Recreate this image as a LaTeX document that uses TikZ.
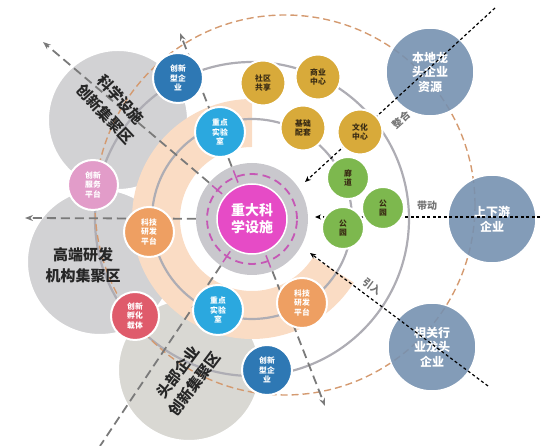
\documentclass[tikz,border=0pt]{standalone}
\usepackage{fontspec}
\setmainfont{Noto Sans CJK SC}
\usetikzlibrary{arrows.meta}

\definecolor{coreMag}{HTML}{E64BC6}
\definecolor{ringGray}{HTML}{C9C8CD}
\definecolor{dashMag}{HTML}{C558B5}
\definecolor{bandPeach}{HTML}{FADCC4}
\definecolor{bizBlue}{HTML}{2E78B4}
\definecolor{labCyan}{HTML}{2BA8DF}
\definecolor{lifeGold}{HTML}{D8AA3A}
\definecolor{parkGreen}{HTML}{7DB84E}
\definecolor{hubSteel}{HTML}{7691B0}
\definecolor{rdOrange}{HTML}{EE9F62}
\definecolor{svcPink}{HTML}{E29CC9}
\definecolor{incRed}{HTML}{DF5B6B}
\definecolor{zoneGray}{HTML}{D2D2D4}
\definecolor{zoneSand}{HTML}{D9D8D3}
\definecolor{wireGray}{HTML}{AEADB4}
\definecolor{orbitOrange}{HTML}{D49A70}
\definecolor{rayGray}{HTML}{7A7A7A}
\definecolor{inkDark}{HTML}{3A2C14}

\begin{document}
\begin{tikzpicture}
[x=1pt,y=1pt,
  baseDecorate/.style={shape=circle,inner sep=0pt,draw=white,line width=2pt,align=center,%
    text=white,font=\fontsize{7.8}{9.2}\selectfont\bfseries},%
  bizDecorate/.style={baseDecorate,fill=bizBlue,minimum size=50pt},%
  labDecorate/.style={baseDecorate,fill=labCyan,minimum size=50pt},%
  rdDecorate/.style={baseDecorate,fill=rdOrange,minimum size=50pt},%
  svcDecorate/.style={baseDecorate,fill=svcPink,minimum size=50pt},%
  incDecorate/.style={baseDecorate,fill=incRed,minimum size=48pt},%
  lifeDecorate/.style={baseDecorate,fill=lifeGold,minimum size=45pt,text=inkDark},%
  parkDecorate/.style={baseDecorate,fill=parkGreen,minimum size=42pt,text=inkDark},%
  hubDecorate/.style={shape=circle,inner sep=0pt,draw=white,line width=1.5pt,fill=hubSteel,%
    fill opacity=0.9,text opacity=1,minimum size=88pt,align=center,text=white,%
    font=\fontsize{12}{14.5}\selectfont\bfseries},%
  zoneDecorate/.style={shape=circle,inner sep=0pt,draw=white,line width=2pt,fill=zoneGray},%
  zoneText/.style={align=center,font=\fontsize{15}{21}\selectfont\bfseries,text=black!85},%
  wireDecorate/.style={draw=wireGray,line width=2.2pt},%
  orbitDecorate/.style={draw=orbitOrange,line width=1.4pt,dash pattern=on 7pt off 4pt},%
  rayDecorate/.style={draw=rayGray,line width=1.8pt,dash pattern=on 9pt off 5pt},%
  flowDecorate/.style={draw=black,line width=1.2pt,dash pattern=on 3pt off 2.5pt,%
    -{Stealth[length=6pt,width=5pt]}},%
  tagDecorate/.style={font=\fontsize{10}{12}\selectfont\bfseries,text=black!55}]
\useasboundingbox (0,0) rectangle (550,446);
\coordinate (mid) at (252,227);

%% cluster zones
\node (kxZone) at (118,326) [zoneDecorate,minimum size=140pt] {};
\node (gdZone) at (100,184) [zoneDecorate,minimum size=146pt] {};
\node (tbZone) at (189,76) [zoneDecorate,fill=zoneSand,minimum size=142pt] {};

%% peach band
\fill[bandPeach] (mid) ++(90:120) arc[start angle=90,end angle=328,radius=120]
  -- ++(148:48) arc[start angle=328,end angle=90,radius=72] -- cycle;

%% orbits
\draw[wireDecorate] (mid) circle[radius=100];
\draw[wireDecorate] (mid) circle[radius=157];
\draw[orbitDecorate] (285,241) circle[radius=190];

%% core
\node (ring) at (mid) [shape=circle,fill=ringGray,minimum size=112pt] {};
\draw[dashMag,line width=1.8pt,dash pattern=on 8pt off 5pt] (mid) circle[radius=45];
\foreach \a in {140,111,236,291}
{
  \draw[dashMag,line width=1.5pt] ([shift={(\a:39)}]mid) -- ([shift={(\a:52)}]mid);
}
\node (core) at (mid) [shape=circle,fill=coreMag,draw=white,line width=1.5pt,minimum size=70pt,%
  align=center,text=white,font=\fontsize{14}{17}\selectfont\bfseries] {重大科\\学设施};

%% rays
\coordinate (rayNW) at (43,404);
\coordinate (rayN) at (180,413);
\coordinate (rayW) at (25,228);
\coordinate (rayS) at (325,40);
\coordinate (raySW) at (100,0);
\foreach \endpt in {rayNW,rayN,rayW,rayS}
{
  \draw[rayDecorate,-{Stealth[length=8pt,width=6pt]}] (ring) -- (\endpt);
}
\draw[rayDecorate] (ring) -- (raySW);

%% outer enterprises
\node (bd) at (430,374) [hubDecorate] {本地龙\\头企业\\资源};
\node (sx) at (492,227) [hubDecorate] {上下游\\企业};
\node (xg) at (432,99) [hubDecorate] {相关行\\业龙头\\企业};

%% flows
\coordinate (joinFrom) at (495,438);
\coordinate (joinTo) at (305,264);
\coordinate (driveFrom) at (540,229);
\coordinate (driveTo) at (315,229);
\coordinate (pullFrom) at (488,60);
\coordinate (pullTo) at (310,193);
\path
\foreach \startnode/\endnode in {joinFrom/joinTo, driveFrom/driveTo, pullFrom/pullTo}
{
  (\startnode) edge[flowDecorate] (\endnode)
};
\node (joinTag) at (401,326) [tagDecorate,rotate=42] {整合};
\node (driveTag) at (427,240) [tagDecorate] {带动};
\node (pullTag) at (372,160) [tagDecorate,rotate=-37] {引入};

%% nodes or vertices
\foreach \nodename/\x/\y in {qyA/178/368, qyB/267/76}
{
  \node (\nodename) at (\x,\y) [bizDecorate] {创新\\型企\\业};
}
\foreach \nodename/\x/\y in {sysA/220/314, sysB/218/136}
{
  \node (\nodename) at (\x,\y) [labDecorate] {重点\\实验\\室};
}
\foreach \nodename/\x/\y in {yfA/302/143, yfB/149/214}
{
  \node (\nodename) at (\x,\y) [rdDecorate] {科技\\研发\\平台};
}
\node (fw) at (93,261) [svcDecorate] {创新\\服务\\平台};
\node (fh) at (135,130) [incDecorate] {创新\\孵化\\载体};
\foreach \nodename/\x/\y/\txt in {
  sq/263/363/{社区\\共享}, sy/318/369/{商业\\中心},
  jc/303/318/{基础\\配套}, wh/360/314/{文化\\中心}}
{
  \node (\nodename) at (\x,\y) [lifeDecorate] {\txt};
}
\foreach \nodename/\x/\y/\txt in {
  ld/348/268/{廊\\道}, gyA/383/238/{公\\园}, gyB/343/218/{公\\园}}
{
  \node (\nodename) at (\x,\y) [parkDecorate] {\txt};
}

%% zone labels
\node (kxText) at (113,339) [zoneText,rotate=-47] {科学设施\\创新集聚区};
\node (gdText) at (83,181) [zoneText] {高端研发\\机构集聚区};
\node (tbText) at (186,68) [zoneText,rotate=53] {头部企业\\创新集聚区};
\end{tikzpicture}
\end{document}
